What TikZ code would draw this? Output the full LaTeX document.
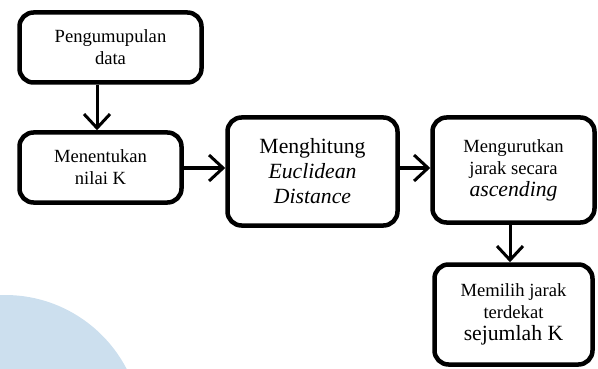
\documentclass[tikz,border=0pt]{standalone}
\usepackage{fontspec}
\setmainfont{Liberation Serif}
\usetikzlibrary{arrows.meta}
\definecolor{wm}{RGB}{204,223,238}
\newcommand{\smtxt}{\fontsize{18.6}{22}\selectfont}
\newcommand{\lgtxt}{\fontsize{21.7}{25}\selectfont}
\tikzset{
  box/.style={draw, line width=4.5pt, rounded corners=14pt, align=center, inner sep=0pt, font=\smtxt},
  arr/.style={line width=3pt, -{Straight Barb[length=14pt,width=26pt]}},
}
\begin{document}
\begin{tikzpicture}[x=1pt,y=-1pt]
\useasboundingbox (0,0) rectangle (598,369);
\begin{scope}
  \clip (0,0) rectangle (598,369);
  \fill[wm] (5,432) circle (137pt);
\end{scope}
\node[box, minimum width=182pt, minimum height=70pt] (b1) at (110.5,47.5) {Pengumupulan\\data};
\node[box, minimum width=162pt, minimum height=70pt] (b2) at (100.5,167.5) {Menentukan\\nilai K};
\node[box, minimum width=170pt, minimum height=108pt, font=\lgtxt] (b3) at (312.5,171.5) {Menghitung\\\textit{Euclidean}\\\textit{Distance}};
\node[box, minimum width=162pt, minimum height=105pt] (b4) at (513.5,170) {Mengurutkan\\jarak secara\\{\lgtxt\textit{ascending}}};
\node[box, minimum width=158pt, minimum height=100pt] (b5) at (513.5,314.5) {Memilih jarak\\terdekat\\{\lgtxt sejumlah K}};
\coordinate (x1) at (97,0);
\coordinate (x2) at (510,0);
\coordinate (y1) at (0,168);
\draw[arr] (x1 |- b1.south) -- (x1 |- b2.north);
\draw[arr] (b2.east |- y1) -- (b3.west |- y1);
\draw[arr] (b3.east |- y1) -- (b4.west |- y1);
\draw[arr] (x2 |- b4.south) -- (x2 |- b5.north);
\end{tikzpicture}
\end{document}
